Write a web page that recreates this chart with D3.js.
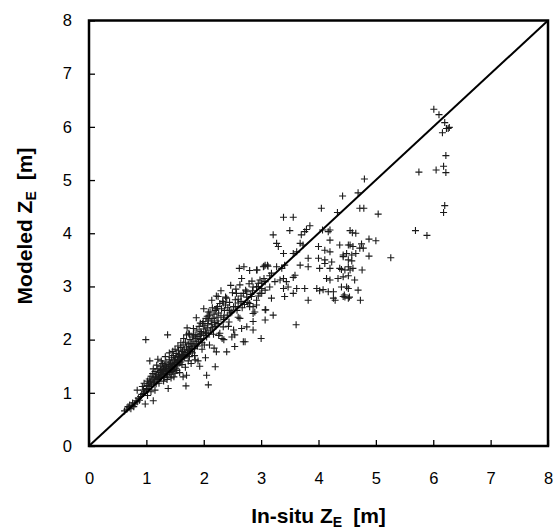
<!DOCTYPE html>
<html>
<head>
<meta charset="utf-8">
<script src="https://cdn.jsdelivr.net/npm/d3@7"></script>
<style>
body{margin:0;background:#fff;}
text{font-family:Arial,"Liberation Sans",sans-serif;fill:#000;}
</style>
</head>
<body>
<script>
(function(){

//axis ticks
var tickValues = [0, 1, 2, 3, 4, 5, 6, 7, 8];

//[in-situ ZE, modeled ZE] pairs, grouped by in-situ range
var shallow = [
    [0.62,0.66],[0.66,0.69],[0.68,0.74],[0.70,0.72],[0.71,0.77],[0.73,0.70],[0.75,0.76],[0.76,0.81],
    [0.78,0.74],[0.80,0.79],[0.82,0.85],[0.84,0.83],[0.84,1.05],[0.86,0.90],[0.88,0.86],[0.90,0.93],
    [0.92,0.97],[0.93,1.12],[0.95,1.05],[0.95,0.99],[0.96,1.18],[0.97,1.02],[0.98,0.79],[0.99,2.00],
    [1.00,1.08],[1.01,1.14],[1.02,1.22],[1.03,1.06],[1.04,1.17],[1.05,1.26],[1.06,1.12],[1.06,1.60],
    [1.07,1.20],[1.08,1.31],[1.09,1.15],[1.10,1.24],[1.11,1.36],[1.12,0.85],[1.12,1.19],[1.13,1.28],
    [1.14,1.22],[1.15,1.40],[1.16,1.30],[1.17,1.17],[1.18,1.34],[1.19,1.25],[1.20,1.63],[1.20,1.45],
    [1.02,0.95],[1.08,1.02],[1.12,1.45],[1.15,1.05],[1.18,1.52]
];
var dense = [
    [1.21,1.32],[1.22,1.38],[1.23,1.27],[1.24,1.42],[1.25,1.35],[1.25,1.50],[1.26,1.30],[1.27,1.44],
    [1.28,1.39],[1.28,1.55],[1.29,1.33],[1.30,1.47],[1.30,1.40],[1.31,1.36],[1.32,1.52],[1.32,1.29],
    [1.33,1.45],[1.34,1.40],[1.34,1.58],[1.35,1.35],[1.35,1.49],[1.36,1.43],[1.37,1.30],[1.37,2.09],
    [1.38,1.08],[1.38,1.53],[1.39,1.46],[1.40,1.38],[1.40,1.62],[1.41,1.50],[1.42,1.43],[1.42,1.56],
    [1.43,1.34],[1.44,1.48],[1.44,1.66],[1.45,1.40],[1.45,1.55],[1.46,1.51],[1.47,1.44],[1.47,1.70],
    [1.48,1.58],[1.49,1.49],[1.49,1.62],[1.50,1.53],[1.50,1.37],
    [1.22,1.18],[1.26,1.60],[1.30,1.22],[1.33,1.68],[1.36,1.25],[1.40,1.75],[1.43,1.28],[1.46,1.78],
    [1.48,1.30],[1.50,1.82],[1.25,1.28],[1.35,1.42],[1.45,1.47],
    [1.51,1.66],[1.52,1.57],[1.52,1.45],[1.53,1.74],[1.54,1.60],[1.55,1.52],[1.55,1.68],[1.56,1.80],
    [1.57,1.62],[1.58,1.56],[1.58,1.72],[1.59,1.66],[1.60,1.85],[1.60,1.58],[1.61,1.70],[1.62,1.64],
    [1.63,1.78],[1.64,1.30],[1.64,1.90],[1.65,1.72],[1.66,1.66],[1.66,1.82],[1.67,1.76],[1.68,1.95],
    [1.69,1.13],[1.69,1.70],[1.70,1.33],[1.70,1.86],[1.70,2.09],[1.71,1.79],[1.72,1.73],[1.73,1.92],
    [1.74,2.12],[1.74,1.82],[1.75,1.68],[1.76,1.87],[1.76,2.00],[1.77,1.78],[1.78,1.93],[1.79,1.84],
    [1.80,2.05],[1.80,1.75],
    [1.53,1.42],[1.58,1.38],[1.62,1.53],[1.68,1.48],[1.73,1.60],[1.78,1.55],[1.55,1.88],[1.60,1.94],
    [1.65,2.02],[1.71,2.22],[1.75,2.10],[1.55,1.60],[1.65,1.68],[1.75,1.80]
];
var middle = [
    [1.81,1.90],[1.82,2.09],[1.83,1.97],[1.84,1.83],[1.85,2.09],[1.85,1.62],[1.86,2.02],[1.87,1.92],
    [1.88,2.02],[1.88,2.18],[1.89,1.88],[1.90,2.06],[1.91,1.96],[1.92,2.25],[1.93,1.50],[1.93,2.10],
    [1.94,2.00],[1.95,2.15],[1.96,2.12],[1.97,1.94],[1.98,2.30],[1.99,2.34],[2.00,2.08],[2.00,2.20],
    [2.01,1.90],[2.02,2.26],[2.03,2.14],[2.04,2.40],[2.05,1.33],[2.05,2.05],[2.06,2.22],[2.07,2.30],
    [2.08,2.37],[2.08,2.52],[2.08,1.15],[2.09,2.12],[2.10,2.45],
    [1.82,2.21],[1.84,1.70],[1.87,2.41],[1.90,1.60],[1.94,2.31],[1.97,1.82],[2.00,2.58],[1.85,1.88],
    [1.95,2.02],[2.03,1.66],[2.06,2.44],[2.05,2.12],
    [2.11,2.52],[2.12,2.18],[2.13,2.35],[2.14,2.28],[2.15,2.60],[2.16,2.40],[2.17,2.10],[2.18,2.48],
    [2.19,2.32],[2.20,1.49],[2.20,2.55],[2.21,2.25],[2.22,2.82],[2.22,1.77],[2.23,2.42],[2.24,2.62],
    [2.25,2.81],[2.25,2.35],[2.26,2.50],[2.28,2.12],[2.28,2.68],[2.30,2.45],[2.31,2.58],[2.32,2.02],
    [2.33,2.72],[2.34,2.24],[2.34,2.69],[2.35,2.38],[2.36,2.55],[2.38,2.65],[2.40,1.77],[2.40,2.78],
    [2.41,2.46],[2.42,2.60],[2.44,2.33],[2.45,2.70],[2.47,2.50],[2.49,2.52],[2.49,2.05],
    [2.10,1.90],[2.14,2.74],[2.18,1.84],[2.22,2.58],[2.26,2.08],[2.30,2.92],[2.35,2.00],[2.38,2.80],
    [2.43,2.25],[2.47,3.02],[2.15,2.22],[2.25,2.30],[2.35,2.42],[2.45,2.55],
    [2.50,2.88],[2.52,2.62],[2.54,1.87],[2.54,2.09],[2.55,2.75],[2.57,2.87],[2.58,2.55],[2.60,2.76],
    [2.60,2.69],[2.62,3.34],[2.63,3.03],[2.63,2.40],[2.65,2.82],[2.66,3.15],[2.66,2.21],[2.67,2.60],
    [2.69,2.87],[2.69,1.96],[2.70,3.37],[2.71,2.66],[2.72,1.96],[2.73,2.93],[2.75,2.90],[2.75,2.24],
    [2.77,2.70],[2.79,3.05],[2.80,3.30],[2.80,2.62],[2.80,2.68],[2.82,2.85],[2.83,2.81],[2.84,3.10],
    [2.86,2.34],[2.86,2.49],[2.86,2.18],[2.86,2.99],[2.86,2.62],[2.89,2.52],[2.92,2.74],[2.92,3.31],
    [2.92,2.99],[2.92,2.65],[2.93,3.31],[2.95,3.06],[2.95,2.82],[2.98,2.87],[2.98,3.12],[3.00,2.02],
    [3.01,3.06],[3.01,2.96],[3.01,2.87],
    [2.52,2.18],[2.56,2.95],[2.60,2.42],[2.55,2.62],[2.65,2.72],[2.75,2.80],[2.85,2.92],[2.95,3.00]
];
var deep = [
    [3.04,3.37],[3.05,3.38],[3.07,3.40],[3.07,2.56],[3.07,2.93],[3.07,2.37],[3.07,3.09],[3.08,2.56],
    [3.11,3.40],[3.12,3.38],[3.15,2.99],[3.18,2.78],[3.18,3.25],[3.21,2.46],[3.21,3.97],[3.24,3.09],
    [3.27,3.37],[3.27,3.81],[3.30,3.75],[3.33,3.12],[3.36,3.34],[3.39,4.30],[3.39,3.62],[3.39,3.15],
    [3.39,2.96],[3.41,3.40],[3.41,2.81],[3.44,3.09],[3.47,2.99],[3.50,4.05],[3.56,4.30],[3.56,3.62],
    [3.56,3.17],[3.56,2.87],[3.59,3.21],[3.61,2.28],[3.62,3.65],[3.62,2.96],[3.05,3.15],[3.15,3.20],
    [3.68,3.81],[3.68,3.40],[3.70,3.97],[3.73,3.78],[3.76,4.03],[3.76,2.96],[3.79,4.07],[3.82,3.53],
    [3.82,3.37],[3.82,2.74],[3.85,4.14],[3.97,2.96],[4.00,3.75],[4.00,3.53],[4.02,3.34],[4.02,2.92],
    [4.05,4.47],[4.07,4.06],[4.08,2.94],[4.11,3.68],[4.11,3.50],[4.11,3.43],[4.14,3.15],[4.17,4.03],
    [4.17,2.90],[4.20,4.06],[4.20,3.87],[4.20,3.65],[4.20,3.34],[4.20,3.12],[4.23,3.46],[4.26,2.90],
    [4.26,2.78],[4.29,2.74],[4.33,4.39],[4.34,3.15],[4.37,3.78],[4.37,3.34],[4.40,2.99],[4.40,3.32],
    [4.42,4.70],[4.43,3.56],[4.43,3.59],[4.43,3.18],[4.43,2.81],[4.45,2.84],[4.46,3.31],[4.46,2.80],
    [4.49,3.62],[4.49,2.99],[4.52,3.78],[4.52,3.50],[4.52,3.37],[4.52,3.20],[4.52,2.96],[4.52,2.78],
    [4.54,2.80],[4.55,4.05],[4.55,3.31],[4.55,3.78],
    [4.58,3.59],[4.58,3.48],[4.59,4.01],[4.60,3.75],[4.60,3.34],[4.63,3.12],[4.65,4.00],[4.65,3.62],
    [4.69,4.76],[4.69,2.93],[4.72,3.72],[4.72,4.47],[4.73,2.74],[4.75,3.80],[4.76,3.31],[4.78,3.72],
    [4.79,4.47],[4.80,5.02],[4.88,3.89],[4.88,3.57],[5.00,3.86],[5.04,4.36],[5.26,3.54]
];
var deepest = [
    [5.69,4.05],[5.75,5.15],[5.89,3.96],[6.01,6.33],[6.05,5.19],[6.10,6.23],[6.16,5.89],[6.18,5.26],
    [6.18,4.39],[6.20,6.08],[6.20,4.52],[6.22,5.46],[6.22,5.14],[6.23,5.97],[6.26,5.97],[6.28,5.99]
];

//1:1 reference line
var oneToOne = [[0, 0], [8, 8]];

window.onload = setChart();

function setChart(){
    var width = 555,
        height = 532;

    var svg = d3.select("body")
        .append("svg")
        .attr("width", width)
        .attr("height", height);

    //plot frame
    var left = 89, right = 548, top = 20.5, bottom = 446;

    var x = d3.scaleLinear().domain([0, 8]).range([left, right]);
    var y = d3.scaleLinear().domain([0, 8]).range([bottom, top]);

    //x axis, ticks pointing inward
    var xAxis = svg.append("g")
        .attr("transform", "translate(0," + bottom + ")")
        .call(d3.axisBottom(x)
            .tickValues(tickValues)
            .tickSizeInner(-6)
            .tickSizeOuter(0)
            .tickPadding(26)
            .tickFormat(d3.format("d")));

    var yAxis = svg.append("g")
        .attr("transform", "translate(" + left + ",0)")
        .call(d3.axisLeft(y)
            .tickValues(tickValues)
            .tickSizeInner(-6)
            .tickSizeOuter(0)
            .tickPadding(17)
            .tickFormat(d3.format("d")));

    [xAxis, yAxis].forEach(function(g){
        g.select(".domain").remove();
        g.selectAll(".tick line").attr("stroke", "#000").attr("stroke-width", 1.3);
        g.selectAll(".tick text")
            .style("font-size", "16.5px")
            .attr("fill", "#000");
    });

    //points
    var all = shallow.concat(dense, middle, deep, deepest);
    svg.append("g")
        .selectAll("path")
        .data(all)
        .enter()
        .append("path")
        .attr("transform", function(d){ return "translate(" + x(d[0]) + "," + y(d[1]) + ")"; })
        .attr("d", "M-3.5,0H3.5M0,-3.5V3.5")
        .attr("stroke", "#1a1a1a")
        .attr("stroke-width", 1.1)
        .attr("fill", "none");

    //1:1 line
    svg.append("path")
        .datum(oneToOne)
        .attr("d", d3.line().x(function(d){ return x(d[0]); }).y(function(d){ return y(d[1]); }))
        .attr("stroke", "#000")
        .attr("stroke-width", 2)
        .attr("fill", "none");

    //frame on top
    svg.append("rect")
        .attr("x", left)
        .attr("y", top)
        .attr("width", right - left)
        .attr("height", bottom - top)
        .attr("fill", "none")
        .attr("stroke", "#000")
        .attr("stroke-width", 2.5);

    //axis titles
    var xTitle = svg.append("text")
        .attr("x", (left + right) / 2)
        .attr("y", 523)
        .attr("text-anchor", "middle")
        .style("font-size", "21px")
        .style("font-weight", "bold");
    xTitle.append("tspan").text("In-situ Z");
    xTitle.append("tspan").attr("dy", 4).style("font-size", "14px").text("E");
    xTitle.append("tspan").attr("dy", -4).attr("dx", 11).text("[m]");

    var yTitle = svg.append("text")
        .attr("transform", "translate(32,226) rotate(-90)")
        .attr("text-anchor", "middle")
        .style("font-size", "21px")
        .style("font-weight", "bold");
    yTitle.append("tspan").text("Modeled Z");
    yTitle.append("tspan").attr("dy", 4).style("font-size", "14px").text("E");
    yTitle.append("tspan").attr("dy", -4).attr("dx", 11).text("[m]");
};

})();
</script>
</body>
</html>
